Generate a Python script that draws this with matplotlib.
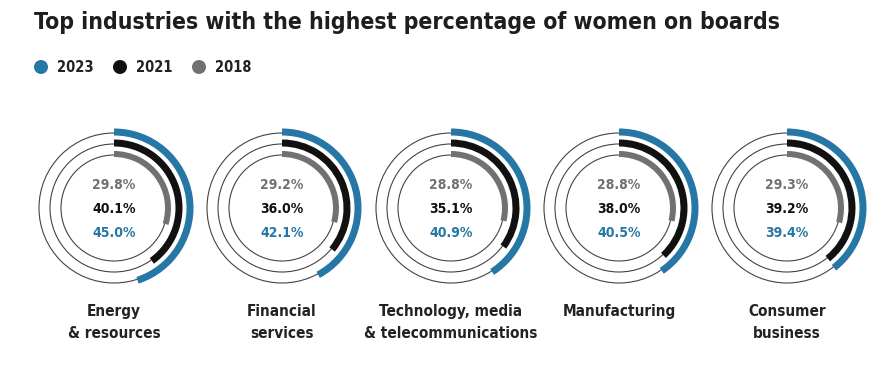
import matplotlib
matplotlib.use("Agg")
import matplotlib.pyplot as plt
from matplotlib.patches import Wedge, Circle

plt.rcParams['font.family'] = ['DejaVu Sans']
plt.rcParams['font.stretch'] = 'condensed'

industries = ["Energy\n& resources", "Financial\nservices",
              "Technology, media\n& telecommunications", "Manufacturing",
              "Consumer\nbusiness"]
years = ["2023", "2021", "2018"]
pct_2023 = [45.0, 42.1, 40.9, 40.5, 39.4]
pct_2021 = [40.1, 36.0, 35.1, 38.0, 39.2]
pct_2018 = [29.8, 29.2, 28.8, 28.8, 29.3]

BLUE = "#2677a5"
BLACK = "#111111"
GRAY = "#707174"
colors = [BLUE, BLACK, GRAY]

W, H = 889, 377
fig = plt.figure(figsize=(W / 100, H / 100), dpi=100)
ax = fig.add_axes([0, 0, 1, 1])
ax.set_xlim(0, W)
ax.set_ylim(H, 0)
ax.axis("off")

fig.text(34 / W, 1 - 22 / H, "Top industries with the highest percentage of women on boards",
         fontsize=16.5, fontweight="bold", stretch="condensed", color="#1e1e1e",
         va="center", ha="left")

# legend
for i, (yr, c) in enumerate(zip(years, colors)):
    x = 41 + i * 79
    ax.add_patch(Circle((x, 67), 7, color=c, lw=0))
    ax.text(x + 16, 68, yr, fontsize=10.5, fontweight="bold", color="#222222",
            va="center", ha="left")

centers = [114, 282, 451, 619, 787]
cy = 208
ring_r = [75, 64, 53]
arc_w = [7, 7, 6]

for k, cx in enumerate(centers):
    vals = [pct_2023[k], pct_2021[k], pct_2018[k]]
    for r in ring_r:
        ax.add_patch(Circle((cx, cy), r, fill=False, ec="#444444", lw=0.8))
    for r, w, v, c in zip(ring_r, arc_w, vals, colors):
        # y axis is inverted, so angles run clockwise from top
        ax.add_patch(Wedge((cx, cy), r + w / 2 + 1, 270, 270 + v * 3.6,
                           width=w, color=c, lw=0))
    ax.text(cx, cy - 23, f"{vals[2]:.1f}%", fontsize=10, fontweight="bold",
            color=GRAY, ha="center", va="center")
    ax.text(cx, cy + 1, f"{vals[1]:.1f}%", fontsize=10, fontweight="bold",
            color=BLACK, ha="center", va="center")
    ax.text(cx, cy + 25, f"{vals[0]:.1f}%", fontsize=10, fontweight="bold",
            color=BLUE, ha="center", va="center")
    ax.text(cx, 304, industries[k], fontsize=11, fontweight="bold",
            color="#222222", ha="center", va="top", linespacing=1.55)

fig.savefig("out.png", dpi=100, facecolor="white")
